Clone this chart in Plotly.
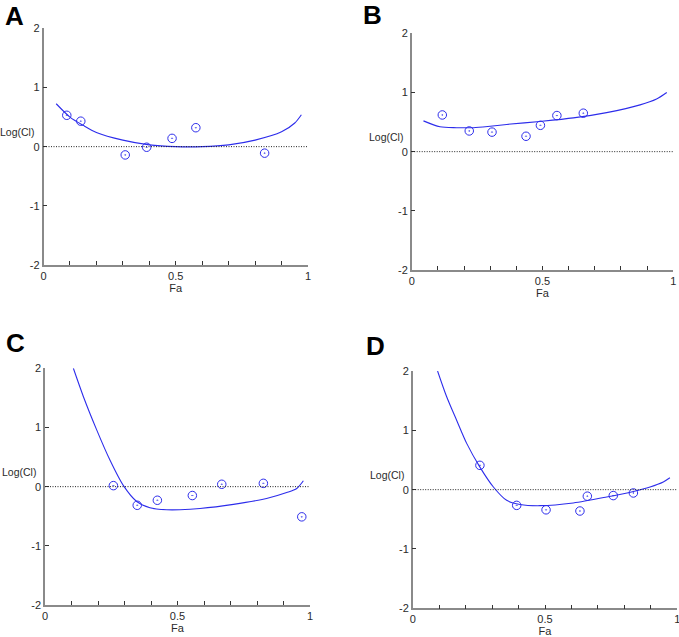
import plotly.graph_objects as go

W, H = 679, 637

# ---- data ----
panel_names = ["A", "B", "C", "D"]

a_fa = [0.088, 0.141, 0.309, 0.390, 0.486, 0.576, 0.836]
a_ci = [0.53, 0.43, -0.14, -0.01, 0.14, 0.32, -0.11]
a_curve_fa = [0.048, 0.10, 0.15, 0.20, 0.30, 0.40, 0.50, 0.60, 0.70, 0.80, 0.90, 0.95, 0.975]
a_curve_ci = [0.725, 0.50, 0.36, 0.24, 0.11, 0.03, 0.0, 0.0, 0.03, 0.11, 0.25, 0.40, 0.54]

b_fa = [0.117, 0.220, 0.307, 0.437, 0.492, 0.555, 0.656]
b_ci = [0.62, 0.35, 0.33, 0.26, 0.445, 0.61, 0.65]
b_curve_fa = [0.045, 0.108, 0.172, 0.236, 0.30, 0.363, 0.49, 0.618, 0.745, 0.873, 0.936, 0.975]
b_curve_ci = [0.52, 0.42, 0.405, 0.405, 0.43, 0.46, 0.51, 0.57, 0.66, 0.79, 0.89, 1.0]

c_fa = [0.258, 0.348, 0.424, 0.556, 0.667, 0.824, 0.969]
c_ci = [0.017, -0.315, -0.23, -0.15, 0.04, 0.056, -0.51]
c_curve_fa = [0.107, 0.145, 0.195, 0.245, 0.296, 0.346, 0.396, 0.459, 0.509, 0.585, 0.711, 0.836, 0.912, 0.95, 0.975]
c_curve_ci = [2.0, 1.52, 0.96, 0.45, 0.017, -0.25, -0.355, -0.39, -0.39, -0.37, -0.30, -0.20, -0.10, -0.03, 0.10]

d_fa = [0.254, 0.393, 0.504, 0.632, 0.660, 0.758, 0.834]
d_ci = [0.41, -0.265, -0.34, -0.36, -0.11, -0.10, -0.056]
d_curve_fa = [0.094, 0.128, 0.166, 0.204, 0.254, 0.305, 0.355, 0.406, 0.481, 0.607, 0.733, 0.834, 0.897, 0.947, 0.972]
d_curve_ci = [2.0, 1.57, 1.17, 0.78, 0.38, 0.045, -0.18, -0.25, -0.27, -0.225, -0.124, -0.03, 0.045, 0.13, 0.20]

x_ticks = [0, 0.5, 1]
x_tick_text = ["0", "0.5", "1"]
y_ticks = [-2, -1, 0, 1, 2]
y_tick_text = ["-2", "-1", "0", "1", "2"]

# ---- layout geometry (pixels) ----
boxes = {
    "A": (43.5, 308.0, 28.3, 265.0),
    "B": (411.7, 673.3, 33.3, 270.0),
    "C": (45.0, 310.0, 368.3, 605.0),
    "D": (412.7, 677.3, 371.0, 608.3),
}
label_pos = {"A": (14, 16), "B": (372, 15), "C": (15, 343), "D": (375, 346)}

series = {
    "A": (a_fa, a_ci, a_curve_fa, a_curve_ci),
    "B": (b_fa, b_ci, b_curve_fa, b_curve_ci),
    "C": (c_fa, c_ci, c_curve_fa, c_curve_ci),
    "D": (d_fa, d_ci, d_curve_fa, d_curve_ci),
}

BLUE = "rgb(45,45,235)"
AXIS_GREY = "#8a8a8a"
TXT = "#2a2a2a"
FONT = "Liberation Sans, Arial, sans-serif"

fig = go.Figure()
layout = dict(
    width=W, height=H, margin=dict(l=0, r=0, t=0, b=0, autoexpand=False),
    paper_bgcolor="white", plot_bgcolor="white", showlegend=False,
    font=dict(family=FONT, size=11, color=TXT),
)
annotations = []
shapes = []

for i, name in enumerate(panel_names):
    sfx = "" if i == 0 else str(i + 1)
    xa, ya = "x" + sfx, "y" + sfx
    fa, ci, cfa, cci = series[name]
    x0, x1, y0, y1 = boxes[name]

    fig.add_trace(go.Scatter(x=cfa, y=cci, mode="lines", xaxis=xa, yaxis=ya,
                             line=dict(color=BLUE, width=1.1, shape="spline", smoothing=0.8),
                             hoverinfo="skip"))
    fig.add_trace(go.Scatter(x=fa, y=ci, mode="markers", xaxis=xa, yaxis=ya,
                             marker=dict(symbol="circle-open-dot", size=8.5, color=BLUE,
                                         line=dict(color=BLUE, width=1))))

    layout["xaxis" + sfx] = dict(
        domain=[x0 / W, x1 / W], anchor=ya, range=[0, 1], automargin=False,
        tickvals=x_ticks, ticktext=x_tick_text, ticks="inside", ticklen=4,
        tickcolor="#333", showgrid=False, zeroline=False, ticklabeloverflow="allow",
        showline=True, linecolor=AXIS_GREY, linewidth=1.5,
        minor=dict(dtick=0.1, tick0=0, ticks="inside", ticklen=4, tickcolor="#333", showgrid=False),
        tickfont=dict(size=11, color=TXT),
        title=dict(text="Fa", font=dict(size=11, color=TXT), standoff=0),
    )
    layout["yaxis" + sfx] = dict(
        domain=[1 - y1 / H, 1 - y0 / H], anchor=xa, range=[-2, 2], automargin=False,
        tickvals=y_ticks, ticktext=y_tick_text, ticks="inside", ticklen=4,
        tickcolor="#333", showgrid=False, zeroline=False,
        showline=True, linecolor=AXIS_GREY, linewidth=1.5,
        tickfont=dict(size=11, color=TXT),
    )
    # dotted zero reference line
    shapes.append(dict(type="line", xref=xa + " domain", yref=ya, x0=0, x1=1, y0=0, y1=0,
                       line=dict(color="#222", width=1, dash="1px,1.5px")))
    # horizontal y label
    annotations.append(dict(text="Log(Cl)", xref=xa + " domain", yref=ya, x=0, y=0.25,
                            xanchor="right", yanchor="middle", xshift=-7, showarrow=False,
                            font=dict(size=10.5, color=TXT)))
    # panel letter
    lx, ly = label_pos[name]
    annotations.append(dict(text="<b>%s</b>" % name, xref="paper", yref="paper",
                            x=lx / W, y=1 - ly / H, xanchor="center", yanchor="middle",
                            showarrow=False, font=dict(size=26, color="black",
                                                       family="Liberation Sans, Arial, sans-serif")))

layout["annotations"] = annotations
layout["shapes"] = shapes
fig.update_layout(**layout)
fig.write_html("out.html", config={"displayModeBar": False},
               post_script="document.body.style.margin='0';document.body.style.overflow='hidden';")
